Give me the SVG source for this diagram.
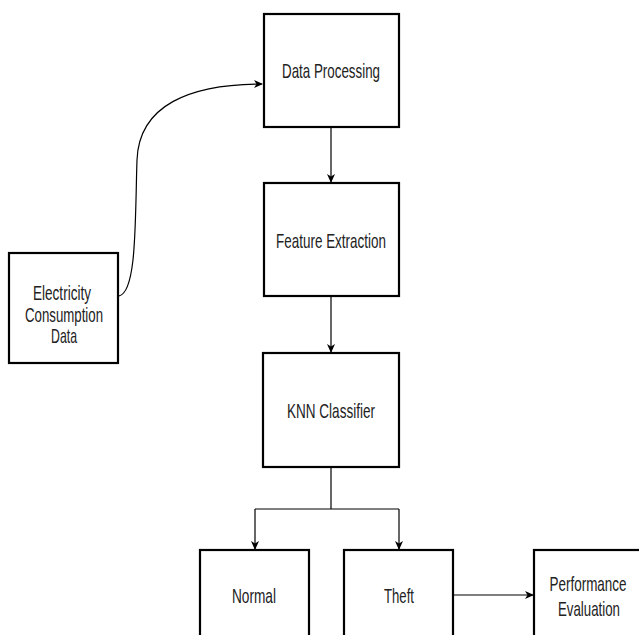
<svg xmlns="http://www.w3.org/2000/svg" width="639" height="635" viewBox="0 0 639 635">
<style>
.box{fill:#fff;stroke:#000;stroke-width:2.2}
.lbl{font-family:"Liberation Sans",Arial,sans-serif;font-size:21px;fill:#222;text-anchor:middle}
.edge{fill:none;stroke:#000;stroke-width:1.2}
</style>
<defs>
<marker id="arr" markerWidth="10" markerHeight="10" refX="8" refY="4" orient="auto" markerUnits="userSpaceOnUse">
<path d="M0,0 L9,4 L0,8 L2.5,4 Z" fill="#000"/>
</marker>
</defs>
<rect width="639" height="635" fill="#fff"/>
<g id="connectors">
<path class="edge" d="M119,296 C137,292 135,220 137,160 C139,105 190,84 262,84" marker-end="url(#arr)"/>
<path class="edge" d="M331,127 V182" marker-end="url(#arr)"/>
<path class="edge" d="M331,296 V352" marker-end="url(#arr)"/>
<path class="edge" d="M331,467 V509"/>
<path class="edge" d="M255,509 H399"/>
<path class="edge" d="M255,509 V549" marker-end="url(#arr)"/>
<path class="edge" d="M399,509 V549" marker-end="url(#arr)"/>
<path class="edge" d="M453,595 H533" marker-end="url(#arr)"/>
</g>
<g id="data-processing">
<rect class="box" x="264" y="14" width="135" height="113"/>
<text class="lbl" x="331" y="78" textLength="98" lengthAdjust="spacingAndGlyphs">Data Processing</text>
</g>
<g id="feature-extraction">
<rect class="box" x="264" y="183" width="135" height="113"/>
<text class="lbl" x="331" y="248" textLength="110" lengthAdjust="spacingAndGlyphs">Feature Extraction</text>
</g>
<g id="electricity-consumption-data">
<rect class="box" x="9" y="253" width="109" height="110"/>
<text class="lbl" x="62" y="300" textLength="58" lengthAdjust="spacingAndGlyphs">Electricity</text>
<text class="lbl" x="64" y="322" textLength="78" lengthAdjust="spacingAndGlyphs">Consumption</text>
<text class="lbl" x="64" y="343" textLength="26" lengthAdjust="spacingAndGlyphs">Data</text>
</g>
<g id="knn-classifier">
<rect class="box" x="263" y="353" width="136" height="114"/>
<text class="lbl" x="331" y="418" textLength="88" lengthAdjust="spacingAndGlyphs">KNN Classifier</text>
</g>
<g id="normal">
<rect class="box" x="200" y="550" width="109" height="90"/>
<text class="lbl" x="254" y="603" textLength="44" lengthAdjust="spacingAndGlyphs">Normal</text>
</g>
<g id="theft">
<rect class="box" x="344" y="550" width="109" height="90"/>
<text class="lbl" x="399" y="603" textLength="30" lengthAdjust="spacingAndGlyphs">Theft</text>
</g>
<g id="performance-evaluation">
<rect class="box" x="534" y="550" width="110" height="90"/>
<text class="lbl" x="588" y="591" textLength="77" lengthAdjust="spacingAndGlyphs">Performance</text>
<text class="lbl" x="589" y="616" textLength="62" lengthAdjust="spacingAndGlyphs">Evaluation</text>
</g>
</svg>
